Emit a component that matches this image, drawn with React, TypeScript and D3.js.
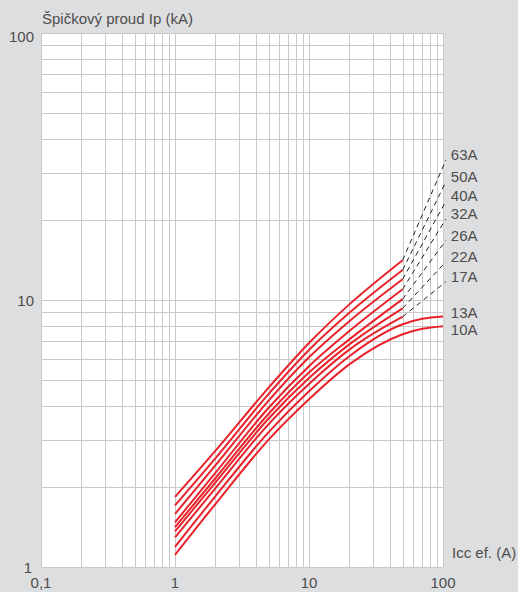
import * as d3 from "d3";
import { useEffect, useRef } from "react";

// Icc ef. (A) sample points where the curves were read
const ICC = [1, 2, 5, 10, 20, 50];
const ICC_LOW = [1, 2, 5, 10, 20, 50, 70, 100];
const DASH_END = 105;

const RATINGS = ["63A", "50A", "40A", "32A", "26A", "22A", "17A", "13A", "10A"];

// Ip (kA) for each rating
const IP_63 = [1.83, 2.72, 4.7, 6.9, 9.63, 14.1];
const IP_50 = [1.7, 2.55, 4.45, 6.5, 8.95, 12.95];
const IP_40 = [1.58, 2.4, 4.2, 6.1, 8.33, 11.96];
const IP_32 = [1.47, 2.25, 3.95, 5.65, 7.65, 10.97];
const IP_26 = [1.41, 2.15, 3.75, 5.35, 7.12, 10.08];
const IP_22 = [1.36, 2.07, 3.6, 5.1, 6.82, 9.31];
const IP_17 = [1.29, 1.97, 3.43, 4.85, 6.52, 8.66];
const IP_13 = [1.19, 1.84, 3.2, 4.55, 6.16, 8.11, 8.5, 8.67];
const IP_10 = [1.11, 1.72, 3.0, 4.25, 5.74, 7.44, 7.8, 7.98];

// dashed extension end values (kA) at DASH_END
const DASH_IP = [33.4, 27.7, 23.4, 20.1, 16.7, 13.9, 11.7];

const X_TICKS = ["0,1", "1", "10", "100"];
const X_TICK_VALUES = [0.1, 1, 10, 100];
const Y_TICK_VALUES = [1, 10, 100];

const W = 518;
const H = 592;
const RED = "#e8232b";
const TEXT = "#4d4d4d";
const FONT = "'Liberation Sans', Arial, sans-serif";

export default function App() {
  const svgRef = useRef<SVGSVGElement | null>(null);

  useEffect(() => {
    const margin = { top: 33, right: 75, bottom: 25, left: 41 };
    const innerWidth = W - margin.left - margin.right;
    const innerHeight = H - margin.top - margin.bottom;

    const x = d3.scaleLog().domain([0.1, 100]).range([0, innerWidth]);
    const y = d3.scaleLog().domain([1, 100]).range([innerHeight, 0]);

    const svg = d3.select(svgRef.current);
    svg.selectAll("*").remove();
    svg.attr("width", W).attr("height", H);

    svg.append("rect").attr("width", W).attr("height", H).attr("fill", "#dddedf");

    const g = svg.append("g").attr("transform", `translate(${margin.left},${margin.top})`);

    g.append("rect").attr("width", innerWidth).attr("height", innerHeight).attr("fill", "#fff");

    // grid
    g.append("g")
      .selectAll("line")
      .data(x.ticks())
      .enter()
      .append("line")
      .attr("x1", d => Math.round(x(d)) + 0.5)
      .attr("x2", d => Math.round(x(d)) + 0.5)
      .attr("y1", 0)
      .attr("y2", innerHeight)
      .attr("stroke", "#c9c9c9")
      .attr("stroke-width", 1);

    g.append("g")
      .selectAll("line")
      .data(y.ticks())
      .enter()
      .append("line")
      .attr("y1", d => Math.round(y(d)) + 0.5)
      .attr("y2", d => Math.round(y(d)) + 0.5)
      .attr("x1", 0)
      .attr("x2", innerWidth)
      .attr("stroke", "#c9c9c9")
      .attr("stroke-width", 1);

    const line = d3
      .line<[number, number]>()
      .x(d => x(d[0]))
      .y(d => y(d[1]))
      .curve(d3.curveMonotoneX);

    const straight = d3
      .line<[number, number]>()
      .x(d => x(d[0]))
      .y(d => y(d[1]));

    const series = [IP_63, IP_50, IP_40, IP_32, IP_26, IP_22, IP_17, IP_13, IP_10];

    // dashed extrapolations
    DASH_IP.forEach((v, i) => {
      const start = series[i][series[i].length - 1];
      const pts: [number, number][] = [
        [ICC[ICC.length - 1], start],
        [DASH_END, v],
      ];
      g.append("path")
        .attr("d", straight(pts))
        .attr("fill", "none")
        .attr("stroke", "#222")
        .attr("stroke-width", 1)
        .attr("stroke-dasharray", "5,4");
    });

    series.forEach(vals => {
      const xs = vals.length > ICC.length ? ICC_LOW : ICC;
      const pts = xs.map((c, j) => [c, vals[j]] as [number, number]);
      g.append("path")
        .attr("d", line(pts))
        .attr("fill", "none")
        .attr("stroke", RED)
        .attr("stroke-width", 2);
    });

    // rating labels
    RATINGS.forEach((r, i) => {
      const dashed = i < DASH_IP.length;
      const endY = dashed ? y(DASH_IP[i]) : y(series[i][series[i].length - 1]);
      const shift = dashed ? 0 : r === "13A" ? 1 : 9;
      svg.append("text")
        .attr("x", margin.left + x(DASH_END) + 5)
        .attr("y", margin.top + endY + shift)
        .attr("font-family", FONT)
        .attr("font-size", 15)
        .attr("fill", TEXT)
        .text(r);
    });

    // axis labels
    X_TICK_VALUES.forEach((v, i) => {
      svg.append("text")
        .attr("x", margin.left + x(v))
        .attr("y", H - 4)
        .attr("text-anchor", "middle")
        .attr("font-family", FONT)
        .attr("font-size", 15)
        .attr("fill", TEXT)
        .text(X_TICKS[i]);
    });

    Y_TICK_VALUES.forEach(v => {
      svg.append("text")
        .attr("x", v === 1 ? 32 : 34)
        .attr("y", margin.top + y(v) + (v === 100 ? 9 : 6))
        .attr("text-anchor", "end")
        .attr("font-family", FONT)
        .attr("font-size", 15)
        .attr("fill", TEXT)
        .text(String(v));
    });

    svg.append("text")
      .attr("x", margin.left + 1)
      .attr("y", 24)
      .attr("font-family", FONT)
      .attr("font-size", 15)
      .attr("fill", TEXT)
      .text("Špičkový proud Ip (kA)");

    svg.append("text")
      .attr("x", margin.left + innerWidth + 9)
      .attr("y", margin.top + innerHeight - 9)
      .attr("font-family", FONT)
      .attr("font-size", 15)
      .attr("fill", TEXT)
      .text("Icc ef. (A)");
  }, []);

  return (
    <div style={{ position: "absolute", left: 0, top: 0 }}>
      <svg ref={svgRef} style={{ display: "block" }} />
    </div>
  );
}
